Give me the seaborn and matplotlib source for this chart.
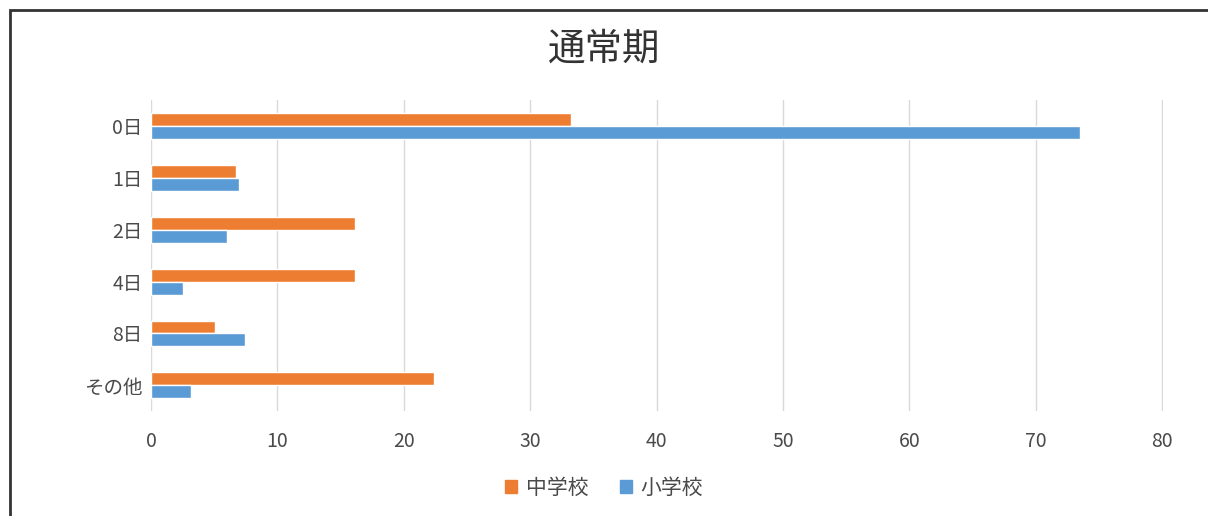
import numpy as np
import matplotlib
matplotlib.use('Agg')
import matplotlib.pyplot as plt
import matplotlib.patches as mpatches
import pandas as pd
import seaborn as sns

# data
categories = ['0日', '1日', '2日', '4日', '8日', 'その他']
chugakko = [33.2, 6.7, 16.1, 16.1, 5.1, 22.4]   # 中学校
shogakko = [73.5, 7.0, 6.0, 2.5, 7.4, 3.2]      # 小学校
series = ['中学校', '小学校']
colors = ['#ED7D31', '#5B9BD5']

df = pd.DataFrame({
    'cat': categories * 2,
    'val': chugakko + shogakko,
    'school': [series[0]] * len(categories) + [series[1]] * len(categories),
})

sns.set_style('white')
plt.rcParams['font.family'] = ['Noto Sans CJK JP', 'DejaVu Sans']

fig = plt.figure(figsize=(12.08, 5.16), dpi=100)
ax = fig.add_axes([0.125, 0.203, 0.838, 0.603])

sns.barplot(data=df, x='val', y='cat', hue='school', order=categories,
            hue_order=series, palette=colors, width=0.5, orient='h',
            saturation=1, ax=ax, legend=False)

ax.set_xlim(0, 80.08)
ax.set_xticks(range(0, 81, 10))
ax.xaxis.grid(True, color='#d9d9d9', lw=1)
ax.set_axisbelow(True)
for s in ax.spines.values():
    s.set_visible(False)
ax.set_xlabel('')
ax.set_ylabel('')
ax.tick_params(axis='both', length=0, labelsize=14, colors='#4a4a4a')
ax.tick_params(axis='x', pad=14)
ax.tick_params(axis='y', pad=6)

fig.text(0.5, 0.905, '通常期', ha='center', va='center', fontsize=27, color='#333333')

handles = [mpatches.Patch(color=c, label=l) for c, l in zip(colors, series)]
fig.legend(handles=handles, loc='center', bbox_to_anchor=(0.5, 0.055), ncol=2,
           frameon=False, fontsize=15, handlelength=0.6, handleheight=0.6,
           columnspacing=1.5, handletextpad=0.4, labelcolor='#4a4a4a')

# outer frame
fig.patches.append(mpatches.Rectangle((10 / 1208, -0.1), 1.2, 1.1 - 10 / 516,
                                      transform=fig.transFigure, fill=False,
                                      edgecolor='#333333', lw=2))

fig.savefig('out.png', dpi=100)
